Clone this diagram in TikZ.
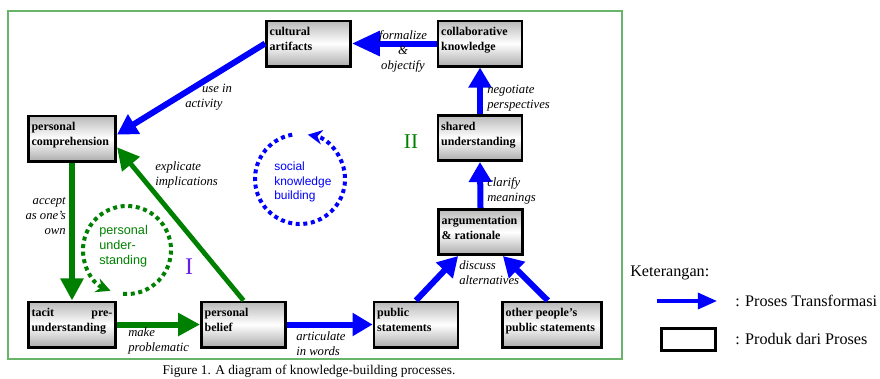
\documentclass[tikz,border=0pt]{standalone}
\usepackage{fontspec}
\setmainfont{Liberation Serif}
\setsansfont{Liberation Sans}
\usepackage{tikz}
\usetikzlibrary{arrows.meta}

\definecolor{darkgreen}{RGB}{0,128,0}
\definecolor{framegreen}{RGB}{104,180,104}
\definecolor{violetblue}{RGB}{100,30,230}
\newcommand{\prodtext}[2]{\parbox[c][0.8cm][t]{#1}{\raggedright #2}}

\begin{document}
\begin{tikzpicture}[x=0.025cm, y=-0.025cm,
    prod/.style={rectangle, draw, line width=0.07cm, top color=gray!55, bottom color=gray!65, middle color=white,
        inner xsep=0.08cm, inner ysep=0.1cm, minimum width=2.1cm, minimum height=1.13cm,
        font=\fontsize{8.5}{10.7}\selectfont\bfseries},
    lbl/.style={inner sep=0pt, font=\fontsize{9}{10.7}\selectfont\itshape},
    bluearrow/.style={blue, line width=0.15cm, -{Triangle[length=0.5cm, width=0.55cm]}},
    greenarrow/.style={darkgreen, line width=0.15cm, -{Triangle[length=0.55cm, width=0.55cm]}},
    dots/.style={line width=0.1cm, dash pattern=on 0.1cm off 0.09cm, -{Stealth[length=0.36cm, width=0.36cm]}}
]
    \useasboundingbox (0,0) rectangle (880,378);
    \draw[framegreen, line width=0.05cm] (8,11) rectangle (622,359);

    % Products
    \node[prod] (cult) at (308.5,43.5) {\prodtext{1.94cm}{cultural\\artifacts}};
    \node[prod] (collab) at (480,43.5) {\prodtext{1.94cm}{collaborative\\knowledge}};
    \node[prod] (shared) at (480,138) {\prodtext{1.94cm}{shared\\understanding}};
    \node[prod] (argu) at (480.5,232) {\prodtext{1.94cm}{argumentation\\\& rationale}};
    \node[prod] (pubst) at (416,324.5) {\prodtext{1.94cm}{public\\statements}};
    \node[prod, minimum width=2.48cm] (other) at (552,324.5) {\prodtext{2.32cm}{other people's\\public statements}};
    \node[prod, minimum width=2.18cm] (comp) at (72,138.5) {\prodtext{2.02cm}{personal\\comprehension}};
    \node[prod, minimum width=2.18cm] (tacit) at (72,324.5) {\prodtext{2.02cm}{tacit\hfill pre-\\understanding}};
    \node[prod] (belief) at (243.5,324.5) {\prodtext{1.94cm}{personal\\belief}};

    % Transformations
    \draw[blue, line width=0.15cm, -{Triangle[length=0.7cm, width=0.6cm]}] (collab.west) -- (cult.east);
    \draw[bluearrow] (cult.west) -- (comp.5);
    \draw[bluearrow] (shared.north) -- (collab.south);
    \draw[bluearrow] (argu.north) -- (shared.south);
    \draw[bluearrow] (pubst.north) -- (argu.227);
    \draw[bluearrow] (other.100) -- (argu.313);
    \draw[bluearrow] (belief.east) -- (pubst.west);
    \draw[greenarrow] (comp.south) -- (tacit.north);
    \draw[greenarrow] (tacit.east) -- (belief.west);
    \draw[greenarrow, line width=0.12cm] (belief.north) -- (comp.-11);

    % Labels
    \node[lbl, align=left, anchor=west] (usein) at (185,97) {\hspace*{0.42cm}use in\\activity};
    \node[lbl, align=center] (formal) at (403,51) {formalize\\\&\\objectify};
    \node[lbl, align=left, anchor=west] (negot) at (487,98) {negotiate\\perspectives};
    \node[lbl, align=left, anchor=west] (clarif) at (487,191) {clarify\\meanings};
    \node[lbl, align=left, anchor=west] (discuss) at (459,273) {discuss\\alternatives};
    \node[lbl, align=left, anchor=west] (artic) at (296,344) {articulate\\in words};
    \node[lbl, align=left, anchor=west] (makep) at (128,341) {make\\problematic};
    \node[lbl, align=right, anchor=east] (accept) at (66,216) {accept\\as one's\\own};
    \node[lbl, align=left, anchor=west] (explic) at (155,175) {explicate\\implications};

    % Cycles
    \coordinate (blc) at (300,179);
    \coordinate (grc) at (127,250);
    \draw[dots, blue] (blc) ++(100:1.125cm) arc[start angle=100, end angle=440, radius=1.125cm];
    \draw[dots, darkgreen] (grc) ++(265:1.1cm) arc[start angle=265, end angle=608, radius=1.1cm];
    \node[blue, anchor=west, align=left, inner sep=0pt, font=\sffamily\fontsize{8.5}{10.3}\selectfont] (social) at (274,182) {social\\knowledge\\building};
    \node[darkgreen, anchor=west, align=left, inner sep=0pt, font=\sffamily\fontsize{9}{10.8}\selectfont] (persu) at (99,246) {personal\\under-\\standing};
    \node[violetblue, font=\fontsize{17}{17}\selectfont] (one) at (189,267) {I};
    \node[darkgreen, font=\fontsize{15}{15}\selectfont] (two) at (411,142) {II};

    % Caption
    \node[font=\fontsize{9.5}{11}\selectfont] (caption) at (309,371) {Figure 1. A diagram of knowledge-building processes.};

    % Legend
    \node[anchor=west, inner sep=0pt, font=\fontsize{11.5}{14}\selectfont] (keter) at (630,273) {Keterangan:};
    \coordinate (lgstart) at (657,301);
    \coordinate (lgend) at (717,301);
    \draw[blue, line width=0.09cm, -{Triangle[length=0.48cm, width=0.4cm]}] (lgstart) -- (lgend);
    \node[anchor=west, inner sep=0pt, font=\fontsize{11.5}{14}\selectfont] (lgtrans) at (735,301) {: Proses Transformasi};
    \node[draw, line width=0.07cm, minimum width=1.35cm, minimum height=0.55cm] (lgbox) at (688.5,339.5) {};
    \node[anchor=west, inner sep=0pt, font=\fontsize{11.5}{14}\selectfont] (lgprod) at (735,339) {: Produk dari Proses};
\end{tikzpicture}
\end{document}
